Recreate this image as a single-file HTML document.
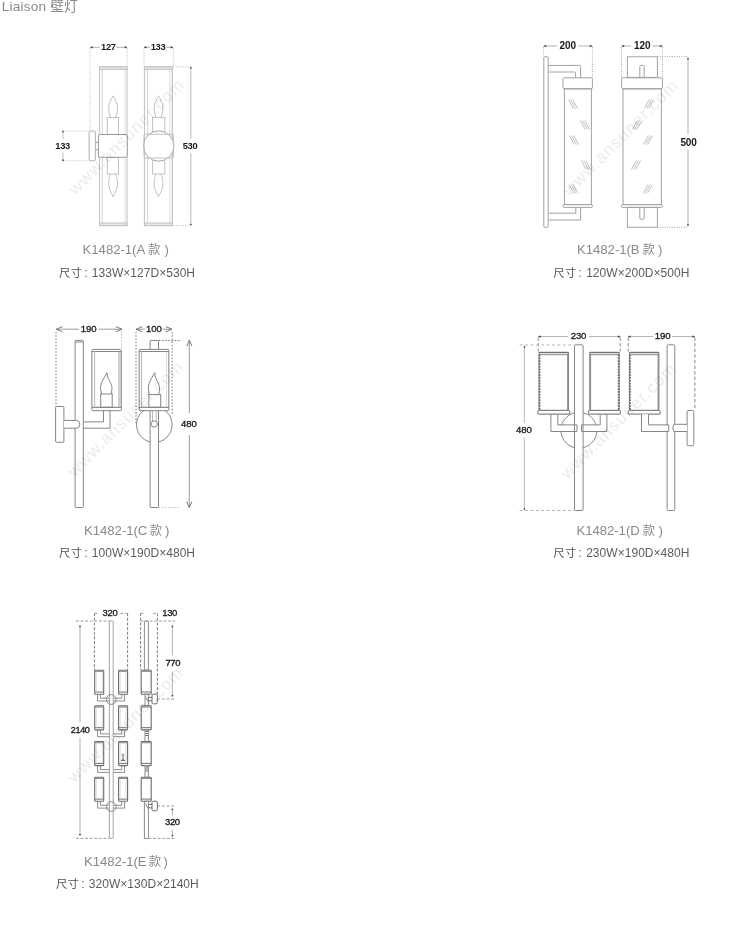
<!DOCTYPE html>
<html><head><meta charset="utf-8"><title>Liaison</title>
<style>
html,body{margin:0;padding:0;background:#fff}
body{width:750px;height:938px;position:relative;overflow:hidden;font-family:"Liberation Sans","Noto Sans CJK SC",sans-serif}
#all{position:absolute;left:0;top:0;width:750px;height:938px;filter:blur(0.4px)}
#d{position:absolute;left:0;top:0;width:750px;height:938px}
.t{position:absolute;white-space:nowrap;line-height:16px}
.title{font-size:13.6px;color:#8a8a8a;letter-spacing:0.2px}
.m{font-size:13.2px;color:#8a8a8a;letter-spacing:-0.05px}
.m .sp1{margin:0 2.6px 0 0px}
.m .sp2{margin-left:3.6px}
.s{font-size:12px;color:#5c5c5c;letter-spacing:0.04px}
.s .col{margin:0 4.2px 0 2px}
.cj{font-family:"Liberation Sans","Noto Sans CJK SC",sans-serif;letter-spacing:0}
.n{position:absolute;width:60px;height:16px;line-height:16px;text-align:center;font-family:"Liberation Sans",sans-serif}
.wm{position:absolute;width:200px;height:24px;line-height:24px;text-align:center;color:#ececec;transform:rotate(-45deg);letter-spacing:1.2px;mix-blend-mode:multiply}
</style></head><body>
<div id="all">
<svg id="d" width="750" height="938" viewBox="0 0 750 938">
<line x1="90.3" y1="47.3" x2="100.0" y2="47.3" stroke="#b0b0b0" stroke-width="1"/>
<line x1="116.4" y1="47.3" x2="127.0" y2="47.3" stroke="#b0b0b0" stroke-width="1"/>
<path d="M90.3 47.3L92.5 46.5V48.1Z" stroke="#444" stroke-width="0.4" fill="#444" stroke-linejoin="round"/>
<path d="M127.0 47.3L124.8 46.5V48.1Z" stroke="#444" stroke-width="0.4" fill="#444" stroke-linejoin="round"/>
<line x1="90.0" y1="48.0" x2="90.0" y2="131.0" stroke="#c0c0c0" stroke-width="1" stroke-dasharray="1 1.4"/>
<line x1="127.2" y1="48.0" x2="127.2" y2="67.0" stroke="#c0c0c0" stroke-width="1" stroke-dasharray="1 1.4"/>
<rect x="99.6" y="67.0" width="27.4" height="158.6" rx="0" stroke="#c0c0c0" stroke-width="1" fill="none"/>
<rect x="99.6" y="67.0" width="27.4" height="2.4" rx="0" stroke="#c0c0c0" stroke-width="1" fill="#e8e8e8"/>
<rect x="99.6" y="223.0" width="27.4" height="2.6" rx="0" stroke="#c0c0c0" stroke-width="1" fill="#e8e8e8"/>
<line x1="102.3" y1="69.4" x2="102.3" y2="223.0" stroke="#d4d4d4" stroke-width="1"/>
<line x1="124.9" y1="69.4" x2="124.9" y2="223.0" stroke="#c8c8c8" stroke-width="1" stroke-dasharray="1 1"/>
<path d="M113.1 95.9 C110.7 99.8 108.7 103.7 108.7 108.0 C108.7 112.7 109.8 115.8 110.9 117.5 M113.1 95.9 C115.5 99.8 117.5 103.7 117.5 108.0 C117.5 112.7 116.4 115.8 115.3 117.5 " stroke="#c0c0c0" stroke-width="1" fill="none" stroke-linejoin="round"/>
<rect x="107.3" y="117.5" width="11.2" height="16.9" rx="0" stroke="#c0c0c0" stroke-width="1" fill="none"/>
<rect x="107.3" y="157.2" width="11.2" height="16.8" rx="0" stroke="#c0c0c0" stroke-width="1" fill="none"/>
<path d="M113.1 196.6 C110.7 192.5 108.7 188.5 108.7 183.9 C108.7 179.0 109.8 175.8 110.9 174 M113.1 196.6 C115.5 192.5 117.5 188.5 117.5 183.9 C117.5 179.0 116.4 175.8 115.3 174 " stroke="#c0c0c0" stroke-width="1" fill="none" stroke-linejoin="round"/>
<rect x="98.4" y="134.5" width="28.9" height="22.8" rx="1.2" stroke="#9a9a9a" stroke-width="1" fill="#fff"/>
<rect x="89.1" y="131.0" width="6.2" height="29.8" rx="1" stroke="#b0b0b0" stroke-width="1" fill="none"/>
<line x1="95.3" y1="142.4" x2="98.4" y2="142.4" stroke="#9a9a9a" stroke-width="1"/>
<line x1="95.3" y1="149.8" x2="98.4" y2="149.8" stroke="#9a9a9a" stroke-width="1"/>
<line x1="62.6" y1="131.0" x2="89.0" y2="131.0" stroke="#c0c0c0" stroke-width="1" stroke-dasharray="1 1.4"/>
<line x1="62.6" y1="160.8" x2="89.0" y2="160.8" stroke="#c0c0c0" stroke-width="1" stroke-dasharray="1 1.4"/>
<line x1="63.0" y1="131.3" x2="63.0" y2="139.5" stroke="#c4c4c4" stroke-width="1"/>
<line x1="63.0" y1="152.5" x2="63.0" y2="160.5" stroke="#c4c4c4" stroke-width="1"/>
<circle cx="63.0" cy="131.6" r="0.6" stroke="#444" stroke-width="0.6" fill="#444"/>
<circle cx="63.0" cy="160.2" r="0.6" stroke="#444" stroke-width="0.6" fill="#444"/>
<line x1="144.0" y1="47.3" x2="150.0" y2="47.3" stroke="#b0b0b0" stroke-width="1"/>
<line x1="166.2" y1="47.3" x2="173.0" y2="47.3" stroke="#b0b0b0" stroke-width="1"/>
<path d="M144.0 47.3L146.2 46.5V48.1Z" stroke="#444" stroke-width="0.4" fill="#444" stroke-linejoin="round"/>
<path d="M173.0 47.3L170.8 46.5V48.1Z" stroke="#444" stroke-width="0.4" fill="#444" stroke-linejoin="round"/>
<line x1="144.0" y1="48.0" x2="144.0" y2="67.0" stroke="#c0c0c0" stroke-width="1" stroke-dasharray="1 1.4"/>
<line x1="173.3" y1="48.0" x2="173.3" y2="67.0" stroke="#c0c0c0" stroke-width="1" stroke-dasharray="1 1.4"/>
<rect x="144.4" y="67.0" width="28.0" height="158.6" rx="0" stroke="#c0c0c0" stroke-width="1" fill="none"/>
<rect x="144.4" y="67.0" width="28.0" height="2.4" rx="0" stroke="#c0c0c0" stroke-width="1" fill="#e8e8e8"/>
<rect x="144.4" y="223.0" width="28.0" height="2.6" rx="0" stroke="#c0c0c0" stroke-width="1" fill="#e8e8e8"/>
<line x1="147.6" y1="69.4" x2="147.6" y2="223.0" stroke="#d4d4d4" stroke-width="1"/>
<line x1="169.6" y1="69.4" x2="169.6" y2="223.0" stroke="#c8c8c8" stroke-width="1" stroke-dasharray="1 1"/>
<line x1="171.2" y1="69.4" x2="171.2" y2="223.0" stroke="#d0d0d0" stroke-width="1" stroke-dasharray="1 1"/>
<path d="M158.5 95.9 C156.1 99.8 154.1 103.7 154.1 108.0 C154.1 112.7 155.2 115.8 156.3 117.5 M158.5 95.9 C160.9 99.8 162.9 103.7 162.9 108.0 C162.9 112.7 161.8 115.8 160.7 117.5 " stroke="#c0c0c0" stroke-width="1" fill="none" stroke-linejoin="round"/>
<rect x="152.6" y="117.4" width="12.2" height="17.0" rx="0" stroke="#c0c0c0" stroke-width="1" fill="none"/>
<rect x="152.6" y="157.2" width="12.2" height="16.8" rx="0" stroke="#c0c0c0" stroke-width="1" fill="none"/>
<path d="M158.5 196.6 C156.1 192.5 154.1 188.5 154.1 183.9 C154.1 179.0 155.2 175.8 156.3 174 M158.5 196.6 C160.9 192.5 162.9 188.5 162.9 183.9 C162.9 179.0 161.8 175.8 160.7 174 " stroke="#c0c0c0" stroke-width="1" fill="none" stroke-linejoin="round"/>
<circle cx="158.7" cy="146.0" r="15.2" stroke="#a6a6a6" stroke-width="1" fill="#fff"/>
<rect x="144.0" y="134.2" width="29.6" height="23.8" rx="1.5" stroke="#c0c0c0" stroke-width="1" fill="none"/>
<line x1="173.4" y1="66.8" x2="190.6" y2="66.8" stroke="#c0c0c0" stroke-width="1" stroke-dasharray="1 1.4"/>
<line x1="173.4" y1="225.6" x2="190.6" y2="225.6" stroke="#c0c0c0" stroke-width="1" stroke-dasharray="1 1.4"/>
<line x1="190.8" y1="67.5" x2="190.8" y2="139.0" stroke="#bdbdbd" stroke-width="1"/>
<line x1="190.8" y1="153.0" x2="190.8" y2="224.8" stroke="#bdbdbd" stroke-width="1"/>
<circle cx="190.8" cy="67.8" r="0.6" stroke="#444" stroke-width="0.6" fill="#444"/>
<circle cx="190.8" cy="224.5" r="0.6" stroke="#444" stroke-width="0.6" fill="#444"/>
<line x1="543.8" y1="46.0" x2="557.0" y2="46.0" stroke="#b0b0b0" stroke-width="1"/>
<line x1="578.5" y1="46.0" x2="592.2" y2="46.0" stroke="#b0b0b0" stroke-width="1"/>
<path d="M543.8 46.0L546.0 45.2V46.8Z" stroke="#444" stroke-width="0.4" fill="#444" stroke-linejoin="round"/>
<path d="M592.2 46.0L590.0 45.2V46.8Z" stroke="#444" stroke-width="0.4" fill="#444" stroke-linejoin="round"/>
<line x1="543.6" y1="47.0" x2="543.6" y2="56.6" stroke="#a4a4a4" stroke-width="1" stroke-dasharray="1 1.4"/>
<line x1="592.4" y1="47.0" x2="592.4" y2="77.4" stroke="#a4a4a4" stroke-width="1" stroke-dasharray="1 1.4"/>
<rect x="543.8" y="56.8" width="4.4" height="170.5" rx="0.6" stroke="#a2a2a2" stroke-width="1" fill="none"/>
<path d="M548.2 65.4H579.6Q580.6 65.4 580.6 66.4V77.4 M548.2 72H574.6Q575.6 72 575.6 73V77.4" stroke="#a2a2a2" stroke-width="1" fill="none" stroke-linejoin="round"/>
<path d="M548.2 220H580.6V207.4 M548.2 213.2H575.8V207.4" stroke="#a2a2a2" stroke-width="1" fill="none" stroke-linejoin="round"/>
<rect x="563.0" y="77.8" width="29.4" height="11.0" rx="1" stroke="#a2a2a2" stroke-width="1" fill="none"/>
<rect x="564.4" y="88.8" width="27.0" height="115.8" rx="0" stroke="#a2a2a2" stroke-width="1" fill="none"/>
<rect x="563.0" y="204.6" width="29.4" height="2.8" rx="0.8" stroke="#a2a2a2" stroke-width="1" fill="none"/>
<line x1="568.4" y1="99.5" x2="573.2" y2="108.5" stroke="#a8a8a8" stroke-width="0.7"/>
<line x1="570.6" y1="99.5" x2="575.4" y2="108.5" stroke="#a8a8a8" stroke-width="0.7"/>
<line x1="572.8" y1="99.5" x2="577.6" y2="108.5" stroke="#a8a8a8" stroke-width="0.7"/>
<line x1="580.4" y1="120.5" x2="585.2" y2="129.5" stroke="#a8a8a8" stroke-width="0.7"/>
<line x1="582.6" y1="120.5" x2="587.4" y2="129.5" stroke="#a8a8a8" stroke-width="0.7"/>
<line x1="584.8" y1="120.5" x2="589.6" y2="129.5" stroke="#a8a8a8" stroke-width="0.7"/>
<line x1="569.4" y1="135.5" x2="574.2" y2="144.5" stroke="#a8a8a8" stroke-width="0.7"/>
<line x1="571.6" y1="135.5" x2="576.4" y2="144.5" stroke="#a8a8a8" stroke-width="0.7"/>
<line x1="573.8" y1="135.5" x2="578.6" y2="144.5" stroke="#a8a8a8" stroke-width="0.7"/>
<line x1="581.4" y1="160.5" x2="586.2" y2="169.5" stroke="#a8a8a8" stroke-width="0.7"/>
<line x1="583.6" y1="160.5" x2="588.4" y2="169.5" stroke="#a8a8a8" stroke-width="0.7"/>
<line x1="585.8" y1="160.5" x2="590.6" y2="169.5" stroke="#a8a8a8" stroke-width="0.7"/>
<line x1="569.0" y1="184.5" x2="573.8" y2="193.5" stroke="#a8a8a8" stroke-width="0.7"/>
<line x1="571.2" y1="184.5" x2="576.0" y2="193.5" stroke="#a8a8a8" stroke-width="0.7"/>
<line x1="573.4" y1="184.5" x2="578.2" y2="193.5" stroke="#a8a8a8" stroke-width="0.7"/>
<line x1="621.8" y1="46.0" x2="631.0" y2="46.0" stroke="#b0b0b0" stroke-width="1"/>
<line x1="652.5" y1="46.0" x2="662.2" y2="46.0" stroke="#b0b0b0" stroke-width="1"/>
<path d="M621.8 46.0L624.0 45.2V46.8Z" stroke="#444" stroke-width="0.4" fill="#444" stroke-linejoin="round"/>
<path d="M662.2 46.0L660.0 45.2V46.8Z" stroke="#444" stroke-width="0.4" fill="#444" stroke-linejoin="round"/>
<line x1="621.6" y1="47.0" x2="621.6" y2="77.4" stroke="#a4a4a4" stroke-width="1" stroke-dasharray="1 1.4"/>
<line x1="662.4" y1="47.0" x2="662.4" y2="77.4" stroke="#a4a4a4" stroke-width="1" stroke-dasharray="1 1.4"/>
<rect x="627.4" y="56.8" width="30.0" height="20.6" rx="0" stroke="#a2a2a2" stroke-width="1" fill="none"/>
<path d="M639.8 77.4V66.6Q639.8 65.2 642 65.2Q644.2 65.2 644.2 66.6V77.4" stroke="#a2a2a2" stroke-width="1" fill="none" stroke-linejoin="round"/>
<rect x="621.6" y="77.8" width="40.8" height="11.0" rx="1" stroke="#a2a2a2" stroke-width="1" fill="none"/>
<rect x="623.0" y="88.8" width="38.4" height="115.8" rx="0" stroke="#a2a2a2" stroke-width="1" fill="none"/>
<rect x="621.6" y="204.6" width="40.8" height="2.8" rx="0.8" stroke="#a2a2a2" stroke-width="1" fill="none"/>
<rect x="627.4" y="207.4" width="30.0" height="19.9" rx="0" stroke="#a2a2a2" stroke-width="1" fill="none"/>
<path d="M639.8 207.4V218Q639.8 219.4 642 219.4Q644.2 219.4 644.2 218V207.4" stroke="#a2a2a2" stroke-width="1" fill="none" stroke-linejoin="round"/>
<line x1="644.4" y1="108.5" x2="649.2" y2="99.5" stroke="#a8a8a8" stroke-width="0.7"/>
<line x1="646.6" y1="108.5" x2="651.4" y2="99.5" stroke="#a8a8a8" stroke-width="0.7"/>
<line x1="648.8" y1="108.5" x2="653.6" y2="99.5" stroke="#a8a8a8" stroke-width="0.7"/>
<line x1="632.4" y1="129.5" x2="637.2" y2="120.5" stroke="#a8a8a8" stroke-width="0.7"/>
<line x1="634.6" y1="129.5" x2="639.4" y2="120.5" stroke="#a8a8a8" stroke-width="0.7"/>
<line x1="636.8" y1="129.5" x2="641.6" y2="120.5" stroke="#a8a8a8" stroke-width="0.7"/>
<line x1="643.4" y1="144.5" x2="648.2" y2="135.5" stroke="#a8a8a8" stroke-width="0.7"/>
<line x1="645.6" y1="144.5" x2="650.4" y2="135.5" stroke="#a8a8a8" stroke-width="0.7"/>
<line x1="647.8" y1="144.5" x2="652.6" y2="135.5" stroke="#a8a8a8" stroke-width="0.7"/>
<line x1="631.4" y1="169.5" x2="636.2" y2="160.5" stroke="#a8a8a8" stroke-width="0.7"/>
<line x1="633.6" y1="169.5" x2="638.4" y2="160.5" stroke="#a8a8a8" stroke-width="0.7"/>
<line x1="635.8" y1="169.5" x2="640.6" y2="160.5" stroke="#a8a8a8" stroke-width="0.7"/>
<line x1="643.0" y1="193.5" x2="647.8" y2="184.5" stroke="#a8a8a8" stroke-width="0.7"/>
<line x1="645.2" y1="193.5" x2="650.0" y2="184.5" stroke="#a8a8a8" stroke-width="0.7"/>
<line x1="647.4" y1="193.5" x2="652.2" y2="184.5" stroke="#a8a8a8" stroke-width="0.7"/>
<line x1="657.4" y1="56.6" x2="688.0" y2="56.6" stroke="#a4a4a4" stroke-width="1" stroke-dasharray="1 1.4"/>
<line x1="657.4" y1="227.3" x2="688.0" y2="227.3" stroke="#a4a4a4" stroke-width="1" stroke-dasharray="1 1.4"/>
<line x1="688.0" y1="58.4" x2="688.0" y2="134.5" stroke="#b4b4b4" stroke-width="1"/>
<line x1="688.0" y1="149.5" x2="688.0" y2="225.2" stroke="#b4b4b4" stroke-width="1"/>
<circle cx="688.0" cy="58.7" r="0.6" stroke="#444" stroke-width="0.6" fill="#444"/>
<circle cx="688.0" cy="224.9" r="0.6" stroke="#444" stroke-width="0.6" fill="#444"/>
<line x1="56.6" y1="329.2" x2="78.8" y2="329.2" stroke="#9a9a9a" stroke-width="1"/>
<line x1="98.5" y1="329.2" x2="121.7" y2="329.2" stroke="#9a9a9a" stroke-width="1"/>
<path d="M62.4 326.6L56.4 329.2L62.4 331.8" stroke="#666" stroke-width="0.9" fill="none" stroke-linejoin="round"/>
<path d="M115.9 331.8L121.9 329.2L115.9 326.6" stroke="#666" stroke-width="0.9" fill="none" stroke-linejoin="round"/>
<line x1="56.0" y1="332.0" x2="56.0" y2="406.5" stroke="#8c8c8c" stroke-width="1.2" stroke-dasharray="1.5 1.7"/>
<line x1="121.6" y1="331.0" x2="121.6" y2="349.0" stroke="#c0c0c0" stroke-width="1" stroke-dasharray="1.6 1.5"/>
<rect x="75.1" y="340.4" width="8.2" height="167.1" rx="0.8" stroke="#858585" stroke-width="1" fill="none"/>
<line x1="75.1" y1="342.0" x2="83.3" y2="342.0" stroke="#858585" stroke-width="1"/>
<rect x="91.9" y="349.4" width="29.4" height="61.3" rx="0.8" stroke="#858585" stroke-width="1" fill="none"/>
<line x1="91.9" y1="351.5" x2="121.3" y2="351.5" stroke="#858585" stroke-width="1"/>
<line x1="91.9" y1="407.3" x2="121.3" y2="407.3" stroke="#707070" stroke-width="1"/>
<line x1="94.6" y1="351.5" x2="94.6" y2="407.3" stroke="#b8b8b8" stroke-width="1"/>
<line x1="118.8" y1="351.5" x2="118.8" y2="407.3" stroke="#b8b8b8" stroke-width="1"/>
<line x1="120.0" y1="351.5" x2="120.0" y2="407.3" stroke="#858585" stroke-width="1" stroke-dasharray="1 1"/>
<rect x="100.7" y="394.0" width="11.5" height="13.3" rx="0" stroke="#858585" stroke-width="1" fill="none"/>
<path d="M107.1 372.8 C103.5 378.7 99.6 384.5 100.7 389.8 L101.5 394.0 M107.1 372.8 C106.6 379.2 113.0 383.4 111.9 389.8 L111.1 394.0" stroke="#858585" stroke-width="1" fill="none" stroke-linejoin="round"/>
<path d="M110.0 410.7V428.2H83.2 M103.5 410.7V421.9H83.2" stroke="#858585" stroke-width="1" fill="none" stroke-linejoin="round"/>
<rect x="55.6" y="406.5" width="8.3" height="35.8" rx="1" stroke="#858585" stroke-width="1" fill="none"/>
<path d="M63.9 420.4H76.6Q79.8 420.6 79.8 424.3Q79.8 428 76.6 428.2H63.9" stroke="#858585" stroke-width="1" fill="#fff" stroke-linejoin="round"/>
<line x1="136.4" y1="329.2" x2="145.0" y2="329.2" stroke="#9a9a9a" stroke-width="1"/>
<line x1="162.5" y1="329.2" x2="171.8" y2="329.2" stroke="#9a9a9a" stroke-width="1"/>
<path d="M142.3 326.6L136.3 329.2L142.3 331.8" stroke="#666" stroke-width="0.9" fill="none" stroke-linejoin="round"/>
<path d="M165.8 331.8L171.8 329.2L165.8 326.6" stroke="#666" stroke-width="0.9" fill="none" stroke-linejoin="round"/>
<line x1="136.0" y1="332.0" x2="136.0" y2="424.7" stroke="#8c8c8c" stroke-width="1.2" stroke-dasharray="1.5 1.7"/>
<line x1="172.2" y1="332.0" x2="172.2" y2="415.3" stroke="#8c8c8c" stroke-width="1.2" stroke-dasharray="1.5 1.7"/>
<circle cx="154.3" cy="424.7" r="17.8" stroke="#858585" stroke-width="1" fill="none"/>
<rect x="150.1" y="340.4" width="8.4" height="167.1" rx="0.8" stroke="#858585" stroke-width="1" fill="#fff"/>
<rect x="139.2" y="349.4" width="29.6" height="61.3" rx="0.8" stroke="#858585" stroke-width="1" fill="#fff"/>
<line x1="139.2" y1="351.5" x2="168.8" y2="351.5" stroke="#858585" stroke-width="1"/>
<line x1="139.2" y1="407.3" x2="168.8" y2="407.3" stroke="#707070" stroke-width="1"/>
<line x1="141.5" y1="351.5" x2="141.5" y2="407.3" stroke="#b8b8b8" stroke-width="1"/>
<line x1="166.5" y1="351.5" x2="166.5" y2="407.3" stroke="#b8b8b8" stroke-width="1" stroke-dasharray="1 1"/>
<rect x="148.9" y="394.6" width="11.8" height="12.7" rx="0" stroke="#858585" stroke-width="1" fill="none"/>
<path d="M154.8 372.6 C151.2 378.8 147.4 384.7 148.5 390.2 L149.3 394.6 M154.8 372.6 C154.3 379.2 160.6 383.6 159.5 390.2 L158.7 394.6" stroke="#858585" stroke-width="1" fill="none" stroke-linejoin="round"/>
<line x1="152.5" y1="410.7" x2="152.5" y2="421.2" stroke="#b8b8b8" stroke-width="1"/>
<line x1="156.2" y1="410.7" x2="156.2" y2="421.2" stroke="#b8b8b8" stroke-width="1"/>
<circle cx="154.3" cy="424.0" r="3.2" stroke="#858585" stroke-width="1" fill="none"/>
<line x1="158.8" y1="340.5" x2="180.0" y2="340.5" stroke="#707070" stroke-width="1.2" stroke-dasharray="1.5 1.7"/>
<line x1="158.5" y1="507.5" x2="180.0" y2="507.5" stroke="#c8c8c8" stroke-width="1" stroke-dasharray="1.6 1.5"/>
<line x1="189.3" y1="340.7" x2="189.3" y2="413.0" stroke="#9a9a9a" stroke-width="1"/>
<line x1="189.3" y1="435.2" x2="189.3" y2="507.0" stroke="#9a9a9a" stroke-width="1"/>
<path d="M191.9 346.2L189.3 340.2L186.7 346.2" stroke="#666" stroke-width="0.9" fill="none" stroke-linejoin="round"/>
<path d="M186.7 501.5L189.3 507.5L191.9 501.5" stroke="#666" stroke-width="0.9" fill="none" stroke-linejoin="round"/>
<line x1="538.4" y1="336.6" x2="568.0" y2="336.6" stroke="#b0b0b0" stroke-width="1"/>
<line x1="589.0" y1="336.6" x2="620.2" y2="336.6" stroke="#b0b0b0" stroke-width="1"/>
<path d="M538.4 336.6L540.6 335.8V337.4Z" stroke="#444" stroke-width="0.4" fill="#444" stroke-linejoin="round"/>
<path d="M620.2 336.6L618.0 335.8V337.4Z" stroke="#444" stroke-width="0.4" fill="#444" stroke-linejoin="round"/>
<line x1="538.2" y1="337.5" x2="538.2" y2="351.5" stroke="#868686" stroke-width="1" stroke-dasharray="3.4 2.2"/>
<line x1="620.2" y1="337.5" x2="620.2" y2="351.5" stroke="#868686" stroke-width="1" stroke-dasharray="3.4 2.2"/>
<line x1="519.6" y1="345.0" x2="574.5" y2="345.0" stroke="#b4b4b4" stroke-width="1" stroke-dasharray="3 2.4"/>
<line x1="519.6" y1="510.5" x2="574.5" y2="510.5" stroke="#b4b4b4" stroke-width="1" stroke-dasharray="3 2.4"/>
<line x1="524.4" y1="346.6" x2="524.4" y2="423.0" stroke="#bcbcbc" stroke-width="1"/>
<line x1="524.4" y1="437.5" x2="524.4" y2="509.4" stroke="#bcbcbc" stroke-width="1"/>
<circle cx="524.4" cy="346.9" r="0.6" stroke="#444" stroke-width="0.6" fill="#444"/>
<circle cx="524.4" cy="509.1" r="0.6" stroke="#444" stroke-width="0.6" fill="#444"/>
<circle cx="578.9" cy="430.2" r="18.0" stroke="#868686" stroke-width="1" fill="none"/>
<path d="M550.9 414.2V431.5H577.0V424.9H557.8V414.2" stroke="#868686" stroke-width="1" fill="#fff" stroke-linejoin="round"/>
<path d="M606.9 414.2V431.5H581.5V424.9H600.2V414.2" stroke="#868686" stroke-width="1" fill="#fff" stroke-linejoin="round"/>
<rect x="574.5" y="344.8" width="8.6" height="165.7" rx="1" stroke="#868686" stroke-width="1" fill="#fff"/>
<line x1="574.9" y1="424.9" x2="577.0" y2="424.9" stroke="#868686" stroke-width="1"/>
<line x1="574.9" y1="431.5" x2="577.0" y2="431.5" stroke="#868686" stroke-width="1"/>
<line x1="577.0" y1="424.9" x2="577.0" y2="431.5" stroke="#868686" stroke-width="1"/>
<line x1="581.5" y1="424.9" x2="582.9" y2="424.9" stroke="#868686" stroke-width="1"/>
<line x1="581.5" y1="431.5" x2="582.9" y2="431.5" stroke="#868686" stroke-width="1"/>
<line x1="581.5" y1="424.9" x2="581.5" y2="431.5" stroke="#868686" stroke-width="1"/>
<rect x="539.1" y="352.3" width="29.3" height="58.1" rx="0.8" stroke="#868686" stroke-width="1.2" fill="none"/>
<line x1="539.1" y1="352.6" x2="568.5" y2="352.6" stroke="#707070" stroke-width="1.2"/>
<line x1="539.1" y1="354.7" x2="568.5" y2="354.7" stroke="#868686" stroke-width="1"/>
<rect x="537.8" y="410.5" width="32.0" height="3.7" rx="1.2" stroke="#868686" stroke-width="1.2" fill="none"/>
<line x1="539.5" y1="354.7" x2="539.5" y2="410.5" stroke="#686868" stroke-width="1.8" stroke-dasharray="1.6 1.2"/>
<line x1="567.7" y1="354.7" x2="567.7" y2="410.5" stroke="#868686" stroke-width="1"/>
<rect x="589.8" y="352.3" width="29.3" height="58.1" rx="0.8" stroke="#868686" stroke-width="1.2" fill="none"/>
<line x1="589.8" y1="352.6" x2="619.1" y2="352.6" stroke="#707070" stroke-width="1.2"/>
<line x1="589.8" y1="354.7" x2="619.1" y2="354.7" stroke="#868686" stroke-width="1"/>
<rect x="588.5" y="410.5" width="32.0" height="3.7" rx="1.2" stroke="#868686" stroke-width="1.2" fill="none"/>
<line x1="618.7" y1="354.7" x2="618.7" y2="410.5" stroke="#686868" stroke-width="1.8" stroke-dasharray="1.6 1.2"/>
<line x1="590.6" y1="354.7" x2="590.6" y2="410.5" stroke="#868686" stroke-width="1"/>
<line x1="628.2" y1="336.6" x2="653.0" y2="336.6" stroke="#b0b0b0" stroke-width="1"/>
<line x1="672.0" y1="336.6" x2="694.8" y2="336.6" stroke="#b0b0b0" stroke-width="1"/>
<path d="M628.2 336.6L630.4 335.8V337.4Z" stroke="#444" stroke-width="0.4" fill="#444" stroke-linejoin="round"/>
<path d="M694.8 336.6L692.6 335.8V337.4Z" stroke="#444" stroke-width="0.4" fill="#444" stroke-linejoin="round"/>
<line x1="628.2" y1="337.5" x2="628.2" y2="351.5" stroke="#868686" stroke-width="1" stroke-dasharray="3.4 2.2"/>
<line x1="694.9" y1="337.5" x2="694.9" y2="409.7" stroke="#868686" stroke-width="1" stroke-dasharray="3.4 2.2"/>
<rect x="667.1" y="344.8" width="7.7" height="165.7" rx="1" stroke="#868686" stroke-width="1" fill="none"/>
<rect x="629.5" y="352.3" width="29.3" height="58.1" rx="0.8" stroke="#868686" stroke-width="1.2" fill="none"/>
<line x1="629.5" y1="352.6" x2="658.9" y2="352.6" stroke="#707070" stroke-width="1.2"/>
<line x1="629.5" y1="354.7" x2="658.9" y2="354.7" stroke="#868686" stroke-width="1"/>
<rect x="628.2" y="410.5" width="32.0" height="3.7" rx="1.2" stroke="#868686" stroke-width="1.2" fill="none"/>
<line x1="629.9" y1="354.7" x2="629.9" y2="410.5" stroke="#686868" stroke-width="1.8" stroke-dasharray="1.6 1.2"/>
<line x1="658.1" y1="354.7" x2="658.1" y2="410.5" stroke="#868686" stroke-width="1"/>
<path d="M641.5 414.2V431.5H668.7V424.9H648.5V414.2" stroke="#868686" stroke-width="1" fill="#fff" stroke-linejoin="round"/>
<rect x="687.1" y="410.5" width="6.7" height="35.2" rx="1" stroke="#868686" stroke-width="1" fill="none"/>
<path d="M687.1 424.3H673.8Q671.7 427.8 673.8 431.5H687.1" stroke="#868686" stroke-width="1" fill="#fff" stroke-linejoin="round"/>
<line x1="94.4" y1="613.4" x2="98.4" y2="613.4" stroke="#9a9a9a" stroke-width="1" stroke-dasharray="2.8 1.8"/>
<line x1="120.4" y1="613.4" x2="127.6" y2="613.4" stroke="#9a9a9a" stroke-width="1" stroke-dasharray="2.8 1.8"/>
<line x1="94.4" y1="613.4" x2="94.4" y2="670.0" stroke="#7a7a7a" stroke-width="1" stroke-dasharray="2.8 1.8"/>
<line x1="127.6" y1="613.4" x2="127.6" y2="670.0" stroke="#7a7a7a" stroke-width="1" stroke-dasharray="2.8 1.8"/>
<line x1="76.0" y1="621.0" x2="110.0" y2="621.0" stroke="#9a9a9a" stroke-width="1" stroke-dasharray="2.8 1.8"/>
<line x1="76.0" y1="838.4" x2="110.0" y2="838.4" stroke="#9a9a9a" stroke-width="1" stroke-dasharray="2.8 1.8"/>
<line x1="80.0" y1="626.0" x2="80.0" y2="722.0" stroke="#b2b2b2" stroke-width="1"/>
<line x1="80.0" y1="738.0" x2="80.0" y2="835.0" stroke="#b2b2b2" stroke-width="1"/>
<circle cx="80.0" cy="626.3" r="0.6" stroke="#444" stroke-width="0.6" fill="#444"/>
<circle cx="80.0" cy="834.7" r="0.6" stroke="#444" stroke-width="0.6" fill="#444"/>
<path d="M97.6 694.2V701.0000000000001H124.6V694.2 M100.4 694.2V698.2H121.8V694.2" stroke="#8c8c8c" stroke-width="1" fill="none" stroke-linejoin="round"/>
<rect x="94.7" y="670.2" width="9.0" height="24.0" rx="0.8" stroke="#6c6c6c" stroke-width="1.1" fill="#fff"/>
<line x1="94.7" y1="671.4" x2="103.7" y2="671.4" stroke="#8c8c8c" stroke-width="1"/>
<line x1="94.7" y1="692.0" x2="103.7" y2="692.0" stroke="#6c6c6c" stroke-width="1"/>
<line x1="96.2" y1="671.8" x2="96.2" y2="691.8" stroke="#dcdcdc" stroke-width="1"/>
<line x1="102.2" y1="671.8" x2="102.2" y2="691.8" stroke="#dcdcdc" stroke-width="1"/>
<rect x="118.6" y="670.2" width="9.0" height="24.0" rx="0.8" stroke="#6c6c6c" stroke-width="1.1" fill="#fff"/>
<line x1="118.6" y1="671.4" x2="127.6" y2="671.4" stroke="#8c8c8c" stroke-width="1"/>
<line x1="118.6" y1="692.0" x2="127.6" y2="692.0" stroke="#6c6c6c" stroke-width="1"/>
<line x1="120.1" y1="671.8" x2="120.1" y2="691.8" stroke="#dcdcdc" stroke-width="1"/>
<line x1="126.1" y1="671.8" x2="126.1" y2="691.8" stroke="#dcdcdc" stroke-width="1"/>
<path d="M97.6 729.9V736.7H124.6V729.9 M100.4 729.9V733.9H121.8V729.9" stroke="#8c8c8c" stroke-width="1" fill="none" stroke-linejoin="round"/>
<rect x="94.7" y="705.9" width="9.0" height="24.0" rx="0.8" stroke="#6c6c6c" stroke-width="1.1" fill="#fff"/>
<line x1="94.7" y1="707.1" x2="103.7" y2="707.1" stroke="#8c8c8c" stroke-width="1"/>
<line x1="94.7" y1="727.7" x2="103.7" y2="727.7" stroke="#6c6c6c" stroke-width="1"/>
<line x1="96.2" y1="707.5" x2="96.2" y2="727.5" stroke="#dcdcdc" stroke-width="1"/>
<line x1="102.2" y1="707.5" x2="102.2" y2="727.5" stroke="#dcdcdc" stroke-width="1"/>
<rect x="118.6" y="705.9" width="9.0" height="24.0" rx="0.8" stroke="#6c6c6c" stroke-width="1.1" fill="#fff"/>
<line x1="118.6" y1="707.1" x2="127.6" y2="707.1" stroke="#8c8c8c" stroke-width="1"/>
<line x1="118.6" y1="727.7" x2="127.6" y2="727.7" stroke="#6c6c6c" stroke-width="1"/>
<line x1="120.1" y1="707.5" x2="120.1" y2="727.5" stroke="#dcdcdc" stroke-width="1"/>
<line x1="126.1" y1="707.5" x2="126.1" y2="727.5" stroke="#dcdcdc" stroke-width="1"/>
<path d="M97.6 765.6V772.4000000000001H124.6V765.6 M100.4 765.6V769.6H121.8V765.6" stroke="#8c8c8c" stroke-width="1" fill="none" stroke-linejoin="round"/>
<rect x="94.7" y="741.6" width="9.0" height="24.0" rx="0.8" stroke="#6c6c6c" stroke-width="1.1" fill="#fff"/>
<line x1="94.7" y1="742.8" x2="103.7" y2="742.8" stroke="#8c8c8c" stroke-width="1"/>
<line x1="94.7" y1="763.4" x2="103.7" y2="763.4" stroke="#6c6c6c" stroke-width="1"/>
<line x1="96.2" y1="743.2" x2="96.2" y2="763.2" stroke="#dcdcdc" stroke-width="1"/>
<line x1="102.2" y1="743.2" x2="102.2" y2="763.2" stroke="#dcdcdc" stroke-width="1"/>
<rect x="118.6" y="741.6" width="9.0" height="24.0" rx="0.8" stroke="#6c6c6c" stroke-width="1.1" fill="#fff"/>
<line x1="118.6" y1="742.8" x2="127.6" y2="742.8" stroke="#8c8c8c" stroke-width="1"/>
<line x1="118.6" y1="763.4" x2="127.6" y2="763.4" stroke="#6c6c6c" stroke-width="1"/>
<line x1="120.1" y1="743.2" x2="120.1" y2="763.2" stroke="#dcdcdc" stroke-width="1"/>
<line x1="126.1" y1="743.2" x2="126.1" y2="763.2" stroke="#dcdcdc" stroke-width="1"/>
<path d="M97.6 801.3V808.1H124.6V801.3 M100.4 801.3V805.3H121.8V801.3" stroke="#8c8c8c" stroke-width="1" fill="none" stroke-linejoin="round"/>
<rect x="94.7" y="777.3" width="9.0" height="24.0" rx="0.8" stroke="#6c6c6c" stroke-width="1.1" fill="#fff"/>
<line x1="94.7" y1="778.5" x2="103.7" y2="778.5" stroke="#8c8c8c" stroke-width="1"/>
<line x1="94.7" y1="799.1" x2="103.7" y2="799.1" stroke="#6c6c6c" stroke-width="1"/>
<line x1="96.2" y1="778.9" x2="96.2" y2="798.9" stroke="#dcdcdc" stroke-width="1"/>
<line x1="102.2" y1="778.9" x2="102.2" y2="798.9" stroke="#dcdcdc" stroke-width="1"/>
<rect x="118.6" y="777.3" width="9.0" height="24.0" rx="0.8" stroke="#6c6c6c" stroke-width="1.1" fill="#fff"/>
<line x1="118.6" y1="778.5" x2="127.6" y2="778.5" stroke="#8c8c8c" stroke-width="1"/>
<line x1="118.6" y1="799.1" x2="127.6" y2="799.1" stroke="#6c6c6c" stroke-width="1"/>
<line x1="120.1" y1="778.9" x2="120.1" y2="798.9" stroke="#dcdcdc" stroke-width="1"/>
<line x1="126.1" y1="778.9" x2="126.1" y2="798.9" stroke="#dcdcdc" stroke-width="1"/>
<rect x="109.4" y="621.0" width="3.8" height="217.4" rx="0.5" stroke="#a4a4a4" stroke-width="1" fill="#fff"/>
<circle cx="111.2" cy="699.5" r="4.9" stroke="#8c8c8c" stroke-width="1" fill="none"/>
<circle cx="111.2" cy="806.6" r="4.9" stroke="#8c8c8c" stroke-width="1" fill="none"/>
<path d="M123 756.5V760 M121 760.4H125.2" stroke="#6c6c6c" stroke-width="1.2" fill="none" stroke-linejoin="round"/>
<circle cx="123.0" cy="755.0" r="1.0" stroke="#6c6c6c" stroke-width="0.8" fill="none"/>
<line x1="140.6" y1="613.4" x2="144.5" y2="613.4" stroke="#9a9a9a" stroke-width="1" stroke-dasharray="2.8 1.8"/>
<line x1="153.0" y1="613.4" x2="157.4" y2="613.4" stroke="#9a9a9a" stroke-width="1" stroke-dasharray="2.8 1.8"/>
<line x1="140.6" y1="613.4" x2="140.6" y2="670.0" stroke="#7a7a7a" stroke-width="1" stroke-dasharray="2.8 1.8"/>
<line x1="157.4" y1="613.4" x2="157.4" y2="694.0" stroke="#7a7a7a" stroke-width="1" stroke-dasharray="2.8 1.8"/>
<line x1="140.6" y1="621.0" x2="175.0" y2="621.0" stroke="#9a9a9a" stroke-width="1" stroke-dasharray="2.8 1.8"/>
<line x1="157.4" y1="699.0" x2="175.0" y2="699.0" stroke="#9a9a9a" stroke-width="1" stroke-dasharray="2.8 1.8"/>
<line x1="172.4" y1="626.0" x2="172.4" y2="655.5" stroke="#b2b2b2" stroke-width="1"/>
<line x1="172.4" y1="671.5" x2="172.4" y2="696.0" stroke="#b2b2b2" stroke-width="1"/>
<circle cx="172.4" cy="626.3" r="0.6" stroke="#444" stroke-width="0.6" fill="#444"/>
<circle cx="172.4" cy="695.7" r="0.6" stroke="#444" stroke-width="0.6" fill="#444"/>
<rect x="144.4" y="621.0" width="4.0" height="49.0" rx="0.5" stroke="#8c8c8c" stroke-width="1" fill="none"/>
<rect x="141.2" y="670.2" width="10.0" height="24.0" rx="0.8" stroke="#6c6c6c" stroke-width="1.1" fill="#fff"/>
<line x1="141.2" y1="671.4" x2="151.2" y2="671.4" stroke="#8c8c8c" stroke-width="1"/>
<line x1="141.2" y1="692.0" x2="151.2" y2="692.0" stroke="#6c6c6c" stroke-width="1"/>
<rect x="145.0" y="694.2" width="3.4" height="11.7" rx="0" stroke="#8c8c8c" stroke-width="1" fill="none"/>
<rect x="141.2" y="705.9" width="10.0" height="24.0" rx="0.8" stroke="#6c6c6c" stroke-width="1.1" fill="#fff"/>
<line x1="141.2" y1="707.1" x2="151.2" y2="707.1" stroke="#8c8c8c" stroke-width="1"/>
<line x1="141.2" y1="727.7" x2="151.2" y2="727.7" stroke="#6c6c6c" stroke-width="1"/>
<rect x="145.0" y="729.9" width="3.4" height="11.7" rx="0" stroke="#8c8c8c" stroke-width="1" fill="none"/>
<line x1="146.7" y1="730.9" x2="146.7" y2="735.9" stroke="#6c6c6c" stroke-width="2.4" stroke-dasharray="1 1"/>
<rect x="141.2" y="741.6" width="10.0" height="24.0" rx="0.8" stroke="#6c6c6c" stroke-width="1.1" fill="#fff"/>
<line x1="141.2" y1="742.8" x2="151.2" y2="742.8" stroke="#8c8c8c" stroke-width="1"/>
<line x1="141.2" y1="763.4" x2="151.2" y2="763.4" stroke="#6c6c6c" stroke-width="1"/>
<rect x="145.0" y="765.6" width="3.4" height="11.7" rx="0" stroke="#8c8c8c" stroke-width="1" fill="none"/>
<line x1="146.7" y1="766.6" x2="146.7" y2="771.6" stroke="#6c6c6c" stroke-width="2.4" stroke-dasharray="1 1"/>
<rect x="141.2" y="777.3" width="10.0" height="24.0" rx="0.8" stroke="#6c6c6c" stroke-width="1.1" fill="#fff"/>
<line x1="141.2" y1="778.5" x2="151.2" y2="778.5" stroke="#8c8c8c" stroke-width="1"/>
<line x1="141.2" y1="799.1" x2="151.2" y2="799.1" stroke="#6c6c6c" stroke-width="1"/>
<rect x="144.4" y="801.3" width="4.0" height="37.1" rx="0" stroke="#8c8c8c" stroke-width="1" fill="none"/>
<rect x="152.0" y="694.2" width="5.4" height="9.6" rx="1.4" stroke="#6c6c6c" stroke-width="1" fill="#fff"/>
<line x1="148.4" y1="697.4" x2="152.0" y2="697.4" stroke="#6c6c6c" stroke-width="1"/>
<line x1="148.4" y1="700.8" x2="152.0" y2="700.8" stroke="#6c6c6c" stroke-width="1"/>
<line x1="145.5" y1="696.5" x2="148.0" y2="701.5" stroke="#8c8c8c" stroke-width="1"/>
<rect x="152.0" y="801.2" width="5.4" height="9.6" rx="1.4" stroke="#6c6c6c" stroke-width="1" fill="#fff"/>
<line x1="148.4" y1="804.4" x2="152.0" y2="804.4" stroke="#6c6c6c" stroke-width="1"/>
<line x1="148.4" y1="807.8" x2="152.0" y2="807.8" stroke="#6c6c6c" stroke-width="1"/>
<line x1="145.5" y1="803.5" x2="148.0" y2="808.5" stroke="#8c8c8c" stroke-width="1"/>
<line x1="157.4" y1="806.0" x2="175.0" y2="806.0" stroke="#9a9a9a" stroke-width="1" stroke-dasharray="2.8 1.8"/>
<line x1="148.4" y1="838.4" x2="175.0" y2="838.4" stroke="#9a9a9a" stroke-width="1" stroke-dasharray="2.8 1.8"/>
<line x1="172.4" y1="809.0" x2="172.4" y2="815.5" stroke="#b2b2b2" stroke-width="1"/>
<line x1="172.4" y1="830.0" x2="172.4" y2="836.0" stroke="#b2b2b2" stroke-width="1"/>
<circle cx="172.4" cy="809.3" r="0.6" stroke="#444" stroke-width="0.6" fill="#444"/>
<circle cx="172.4" cy="835.7" r="0.6" stroke="#444" stroke-width="0.6" fill="#444"/>
</svg>
<div class="t title" style="left:1.8px;top:-0.6px">Liaison <span class="cj" style="margin-left:0px;font-size:13.8px;color:#8a8a8a">壁灯</span></div>
<div class="n" style="left:78.4px;top:39.2px;font-size:9.4px;font-weight:bold;color:#1a1a1a;letter-spacing:-0.3px">127</div>
<div class="n" style="left:32.6px;top:137.8px;font-size:9.4px;font-weight:bold;color:#1a1a1a;letter-spacing:-0.3px">133</div>
<div class="n" style="left:128.0px;top:39.2px;font-size:9.4px;font-weight:bold;color:#1a1a1a;letter-spacing:-0.3px">133</div>
<div class="n" style="left:160.0px;top:137.8px;font-size:9.4px;font-weight:bold;color:#1a1a1a;letter-spacing:-0.3px">530</div>
<div class="t m" style="left:82.6px;top:242px">K1482-1(<span style="margin-right:2.6px">A</span><span class="cj" style="font-size:12.4px;color:#8a8a8a;margin:0 0.3px">款</span><span style="margin-left:3.6px">)</span></div>
<div class="t s" style="left:58.6px;top:265px"><span class="cj" style="font-size:11.2px;color:#555;margin:0 0.3px">尺</span><span class="cj" style="font-size:11.2px;color:#555;margin:0 0.3px">寸</span><span class="col">:</span>133W×127D×530H</div>
<div class="n" style="left:537.8px;top:38.2px;font-size:10px;font-weight:bold;color:#1a1a1a;letter-spacing:-0.1px">200</div>
<div class="n" style="left:612.2px;top:38.2px;font-size:10px;font-weight:bold;color:#1a1a1a;letter-spacing:-0.1px">120</div>
<div class="n" style="left:658.6px;top:135.0px;font-size:10px;font-weight:bold;color:#1a1a1a;letter-spacing:-0.1px">500</div>
<div class="t m" style="left:577px;top:242px">K1482-1(<span style="margin-right:2.6px">B</span><span class="cj" style="font-size:12.4px;color:#8a8a8a;margin:0 0.3px">款</span><span style="margin-left:2.8px">)</span></div>
<div class="t s" style="left:553px;top:265px"><span class="cj" style="font-size:11.2px;color:#555;margin:0 0.3px">尺</span><span class="cj" style="font-size:11.2px;color:#555;margin:0 0.3px">寸</span><span class="col">:</span>120W×200D×500H</div>
<div class="n" style="left:58.6px;top:321.2px;font-size:9.6px;font-weight:normal;color:#1a1a1a;letter-spacing:-0.1px;-webkit-text-stroke:0.32px #1a1a1a">190</div>
<div class="n" style="left:123.9px;top:321.2px;font-size:9.6px;font-weight:normal;color:#1a1a1a;letter-spacing:-0.1px;-webkit-text-stroke:0.32px #1a1a1a">100</div>
<div class="n" style="left:158.9px;top:415.7px;font-size:9.6px;font-weight:normal;color:#1a1a1a;letter-spacing:-0.1px;-webkit-text-stroke:0.32px #1a1a1a">480</div>
<div class="t m" style="left:84px;top:522.6px">K1482-1(<span style="margin-right:2.2px">C</span><span class="cj" style="font-size:12.4px;color:#8a8a8a;margin:0 0.3px">款</span><span style="margin-left:2.6px">)</span></div>
<div class="t s" style="left:58.6px;top:545px"><span class="cj" style="font-size:11.2px;color:#555;margin:0 0.3px">尺</span><span class="cj" style="font-size:11.2px;color:#555;margin:0 0.3px">寸</span><span class="col">:</span>100W×190D×480H</div>
<div class="n" style="left:548.5px;top:328.4px;font-size:9.6px;font-weight:normal;color:#1a1a1a;letter-spacing:-0.1px;-webkit-text-stroke:0.32px #1a1a1a">230</div>
<div class="n" style="left:493.8px;top:422.2px;font-size:9.6px;font-weight:normal;color:#1a1a1a;letter-spacing:-0.1px;-webkit-text-stroke:0.32px #1a1a1a">480</div>
<div class="n" style="left:632.6px;top:328.4px;font-size:9.6px;font-weight:normal;color:#1a1a1a;letter-spacing:-0.1px;-webkit-text-stroke:0.32px #1a1a1a">190</div>
<div class="t m" style="left:576.4px;top:522.6px">K1482-1(<span style="margin-right:2.6px">D</span><span class="cj" style="font-size:12.4px;color:#8a8a8a;margin:0 0.3px">款</span><span style="margin-left:3.2px">)</span></div>
<div class="t s" style="left:553px;top:545px"><span class="cj" style="font-size:11.2px;color:#555;margin:0 0.3px">尺</span><span class="cj" style="font-size:11.2px;color:#555;margin:0 0.3px">寸</span><span class="col">:</span>230W×190D×480H</div>
<div class="n" style="left:80.0px;top:604.8px;font-size:9.5px;font-weight:normal;color:#1a1a1a;letter-spacing:-0.36px;-webkit-text-stroke:0.32px #1a1a1a">320</div>
<div class="n" style="left:50.2px;top:721.8px;font-size:9.1px;font-weight:normal;color:#1a1a1a;letter-spacing:-0.4px;-webkit-text-stroke:0.32px #1a1a1a">2140</div>
<div class="n" style="left:139.6px;top:604.8px;font-size:9.5px;font-weight:normal;color:#1a1a1a;letter-spacing:-0.36px;-webkit-text-stroke:0.32px #1a1a1a">130</div>
<div class="n" style="left:142.8px;top:655.2px;font-size:9.5px;font-weight:normal;color:#1a1a1a;letter-spacing:-0.36px;-webkit-text-stroke:0.32px #1a1a1a">770</div>
<div class="n" style="left:142.4px;top:814.4px;font-size:9.5px;font-weight:normal;color:#1a1a1a;letter-spacing:-0.36px;-webkit-text-stroke:0.32px #1a1a1a">320</div>
<div class="t m" style="left:84px;top:853.7px">K1482-1(<span style="margin-right:1.8px">E</span><span class="cj" style="font-size:12.4px;color:#8a8a8a;margin:0 0.3px">款</span><span style="margin-left:2.2px">)</span></div>
<div class="t s" style="left:55.6px;top:875.6px"><span class="cj" style="font-size:11.2px;color:#555;margin:0 0.3px">尺</span><span class="cj" style="font-size:11.2px;color:#555;margin:0 0.3px">寸</span><span class="col">:</span>320W×130D×2140H</div>
<div class="wm" style="left:26.5px;top:124.5px;font-size:17px">www.ansuner.com</div><div class="wm" style="left:520.5px;top:126px;font-size:17px">www.ansuner.com</div><div class="wm" style="left:26.299999999999997px;top:406.8px;font-size:17px">www.ansuner.com</div><div class="wm" style="left:519px;top:409px;font-size:17px">www.ansuner.com</div><div class="wm" style="left:26px;top:712.5px;font-size:17px">www.ansuner.com</div>
</div>
</body></html>
